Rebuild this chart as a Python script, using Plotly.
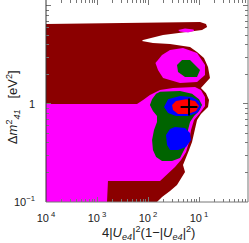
import plotly.graph_objects as go

# ---- data ----
# outer dark-red allowed region (boundary vertices: x = 4|Ue4|^2(1-|Ue4|^2), y = dm41^2 [eV^2])
darkred_x = [1e-4, 0.1046, 0.137, 0.144, 0.1145, 0.0582, 0.0197, 0.0080, 0.0076, 0.0125, 0.0270,
             0.0666, 0.0914, 0.125, 0.150, 0.164, 0.131, 0.109, 0.137, 0.157, 0.150, 0.109,
             0.0914, 0.0835, 0.0798, 0.0729, 0.0637, 0.0556, 0.0485, 0.0531, 0.0443, 0.0370,
             0.0270, 0.0188, 0.0150, 1e-4]
darkred_y = [6.55, 6.87, 6.55, 6.11, 5.69, 5.43, 5.06, 4.50, 4.39, 4.19, 4.09,
             3.82, 3.39, 2.94, 2.39, 1.84, 1.60, 1.46, 1.29, 1.10, 0.932, 0.791,
             0.687, 0.569, 0.483, 0.410, 0.340, 0.281, 0.239, 0.202, 0.176, 0.149,
             0.1295, 0.1125, 0.1, 0.1]

# magenta region (lower main part)
magenta_x = [1e-4, 0.00608, 0.0080, 0.0109, 0.0172, 0.0309, 0.0835, 0.109, 0.131, 0.131, 0.1046,
             0.0798, 0.0697, 0.0637, 0.0556, 0.0443, 0.0338, 0.0258, 0.0206, 0.0172,
             0.00164, 0.00157, 1e-4]
magenta_y = [1.0, 1.0, 1.10, 1.235, 1.39, 1.46, 1.49, 1.39, 1.18, 0.954, 0.810,
             0.687, 0.543, 0.410, 0.324, 0.268, 0.228, 0.198, 0.176, 0.164,
             0.164, 0.1, 0.1]

# magenta upper island
magenta2_x = [0.0140, 0.0188, 0.0270, 0.0485, 0.0914, 0.131, 0.131, 0.0914, 0.0424, 0.0197, 0.0157]
magenta2_y = [2.62, 3.16, 3.56, 3.73, 3.31, 2.50, 1.98, 1.68, 1.64, 1.84, 2.22]

# small magenta spot in the top band
magenta3_x = [0.0390, 0.0531, 0.0780, 0.0800, 0.0608, 0.0420]
magenta3_y = [5.69, 5.89, 5.76, 5.56, 5.36, 5.49]

# green regions
green_x = [0.0172, 0.0424, 0.0729, 0.100, 0.1145, 0.100, 0.0798, 0.0666, 0.0608, 0.0608, 0.0556,
           0.0485, 0.0424, 0.0296, 0.0188, 0.0144, 0.0125, 0.0120, 0.0131, 0.0150, 0.0150,
           0.0125, 0.0109, 0.0120, 0.0144]
green_y = [1.33, 1.36, 1.27, 1.12, 0.977, 0.848, 0.754, 0.655, 0.543, 0.450, 0.373,
           0.324, 0.281, 0.262, 0.262, 0.288, 0.340, 0.429, 0.543, 0.655, 0.754,
           0.848, 0.977, 1.12, 1.27]
green2_x = [0.0370, 0.0464, 0.0666, 0.1046, 0.0914, 0.0531, 0.0388]
green2_y = [2.50, 2.81, 2.81, 2.22, 1.89, 1.89, 2.12]

# blue regions
blue_x = [0.0247, 0.0424, 0.0729, 0.100, 0.1094, 0.0914, 0.0608, 0.0354, 0.0247, 0.0206]
blue_y = [1.12, 1.21, 1.18, 1.07, 0.932, 0.810, 0.754, 0.754, 0.810, 0.932]
blue2_x = [0.0338, 0.0531, 0.0666, 0.0697, 0.0556, 0.0388, 0.0270, 0.0236, 0.0225, 0.0270]
blue2_y = [0.582, 0.569, 0.506, 0.429, 0.364, 0.340, 0.340, 0.382, 0.483, 0.556]

# red region
red_x = [0.0354, 0.0556, 0.0835, 0.100, 0.0874, 0.0608, 0.0388, 0.0309, 0.0296]
red_y = [1.07, 1.12, 1.07, 0.954, 0.848, 0.791, 0.791, 0.869, 0.977]

# best-fit point
best_x = [0.0637]
best_y = [0.932]

x_tickvals = [1e-4, 1e-3, 1e-2, 1e-1]
x_ticktext = ["10<sup> 4</sup>", "10<sup> 3</sup>", "10<sup> 2</sup>", "10<sup> 1</sup>"]
y_tickvals = [0.1, 1, 10]
y_ticktext = ["10<sup>\u22121</sup>", "1", ""]

DARKRED = "#8b0000"
MAGENTA = "#ff00ff"
GREEN = "#006400"
BLUE = "#0000ff"
RED = "#ff0000"

fig = go.Figure()

def region(xs, ys, color):
    fig.add_trace(go.Scatter(x=xs, y=ys, fill="toself", fillcolor=color, mode="lines",
                             line=dict(width=0, color=color), hoverinfo="skip", showlegend=False))

region(darkred_x, darkred_y, DARKRED)
region(magenta_x, magenta_y, MAGENTA)
region(magenta2_x, magenta2_y, MAGENTA)
region(magenta3_x, magenta3_y, MAGENTA)
region(green_x, green_y, GREEN)
region(green2_x, green2_y, GREEN)
region(blue_x, blue_y, BLUE)
region(blue2_x, blue2_y, BLUE)
region(red_x, red_y, RED)

fig.add_trace(go.Scatter(x=best_x, y=best_y, mode="markers",
                         marker=dict(symbol="cross-thin", size=12, line=dict(width=2, color="black")),
                         showlegend=False, hoverinfo="skip"))

minor_x = [m * 10 ** e for e in range(-4, 0) for m in range(2, 10)]
minor_y = [m * 10 ** e for e in range(-1, 2) for m in range(2, 10)]

fig.update_xaxes(type="log", range=[-4, -0.04], tickmode="array", tickvals=x_tickvals,
                 ticktext=x_ticktext, ticks="inside", ticklen=5, tickcolor="#777",
                 mirror="allticks", showline=False, showgrid=False, zeroline=False,
                 ticklabelstandoff=8,
                 minor=dict(tickmode="array", tickvals=minor_x, ticks="inside", ticklen=3,
                            tickcolor="#777", showgrid=False),
                 tickfont=dict(family="Liberation Sans, Arial", size=11, color="#222"))
fig.update_yaxes(type="log", range=[-1, 1.061], tickmode="array", tickvals=y_tickvals,
                 ticktext=y_ticktext, ticks="inside", ticklen=5, tickcolor="#777",
                 mirror="allticks", showline=False, showgrid=False, zeroline=False,
                 ticklabelstandoff=10,
                 minor=dict(tickmode="array", tickvals=minor_y, ticks="inside", ticklen=3,
                            tickcolor="#777", showgrid=False),
                 tickfont=dict(family="Liberation Sans, Arial", size=11, color="#222"))

# frame: left, bottom, right (top is cut off in the reference)
for x0, y0, x1, y1, c in [(0, 0, 0, 1, "#333"), (0, 0, 1, 0, "#777"), (1, 0, 1, 1, "#777")]:
    fig.add_shape(type="line", xref="paper", yref="paper", x0=x0, y0=y0, x1=x1, y1=y1,
                  line=dict(color=c, width=1))

fig.add_annotation(xref="paper", yref="paper", x=0.505, y=-0.152, xanchor="center", yanchor="middle",
                   text="4|<i>U<sub>e4</sub></i>|<sup>2</sup>(1\u2212|<i>U<sub>e4</sub></i>|<sup>2</sup>)",
                   showarrow=False, font=dict(family="Liberation Sans, Arial", size=13, color="#222"))
fig.add_annotation(xref="paper", yref="paper", x=-0.163, y=0.47, xanchor="center", yanchor="middle",
                   textangle=-90,
                   text="\u0394<i>m</i><sup>2</sup><sub><i>41</i></sub>\u00a0\u00a0\u00a0[eV<sup>2</sup>]",
                   showarrow=False, font=dict(family="Liberation Sans, Arial", size=13, color="#222"))

fig.update_layout(width=249, height=243, margin=dict(l=46, r=1, t=0, b=41),
                  paper_bgcolor="white", plot_bgcolor="white", showlegend=False)

fig.write_html("out.html", config={"displayModeBar": False},
               post_script="document.body.style.margin='0px';document.body.style.overflow='hidden';")
